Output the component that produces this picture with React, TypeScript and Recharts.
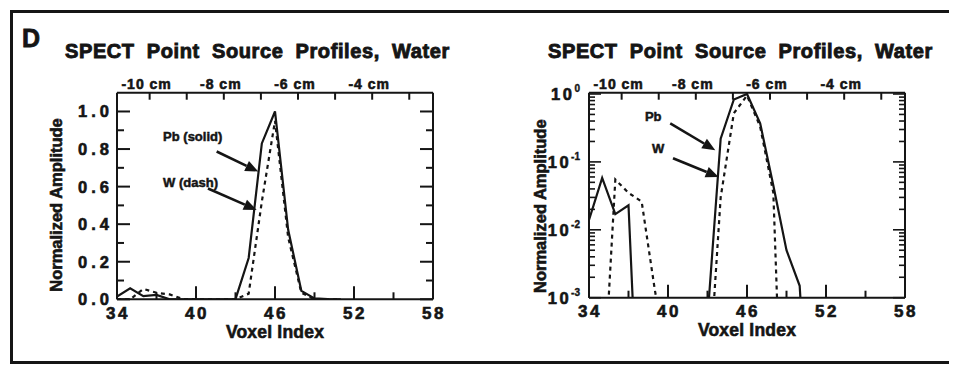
import React from "react";
import { LineChart, Line, XAxis, YAxis, ReferenceLine, ReferenceDot } from "recharts";

// voxel profiles, normalised to peak (values below the log floor are clipped)
const voxelIndex = [34, 35, 36, 37, 38, 39, 40, 41, 42, 43, 44, 45, 46, 47, 48, 49, 50, 51];
const pbSolid = [0.014, 0.058, 0.017, 0.023, 1e-6, 1e-6, 1e-6, 1e-6, 1e-6, 5e-4, 0.22, 0.83, 1.0, 0.37, 0.045, 0.005, 0.0015, 1e-6];
const wDash = [1e-6, 2e-5, 0.055, 0.035, 0.026, 1.3e-3, 1e-4, 1e-6, 1e-6, 3e-5, 0.03, 0.52, 0.95, 0.33, 0.035, 1e-7, 1e-7, 1e-7];

const voxelTicks = [34, 37, 40, 43, 46, 49, 52, 55, 58];
const cmTicks = [-10, -9, -8, -7, -6, -5, -4, -3];
const linTicks = [0, 0.1, 0.2, 0.3, 0.4, 0.5, 0.6, 0.7, 0.8, 0.9, 1.0];
const logTicks = [
  0.001, 0.002, 0.003, 0.004, 0.005, 0.006, 0.007, 0.008, 0.009,
  0.01, 0.02, 0.03, 0.04, 0.05, 0.06, 0.07, 0.08, 0.09,
  0.1, 0.2, 0.3, 0.4, 0.5, 0.6, 0.7, 0.8, 0.9, 1,
];

const TITLE = "SPECT Point Source Profiles, Water";
const Y_LABEL = "Normalized Amplitude";
const X_LABEL = "Voxel Index";

// position scale of the top axis: cm at voxel 34 and cm per voxel
const CM_AT_34 = -10.88;
const CM_PER_VOXEL = 0.355;
const cmTickVoxels = cmTicks.map((c) => 34 + (c - CM_AT_34) / CM_PER_VOXEL);
const cmLabelAt = (voxel: number) => Math.round(CM_AT_34 + (voxel - 34) * CM_PER_VOXEL);

const rows = voxelIndex.map((v, i) => ({ voxel: v, pb: pbSolid[i], w: wDash[i] }));

const INK = "#151515";
const FONT = '"Liberation Sans", Arial, Helvetica, sans-serif';

const Y_GAP = 7;
const LOG_GAP = 9;
const BOTTOM_GAP = 19.5;
const TOP_GAP = 4;

const heavy = (size: number, spacing = 0, sw = 0.6) => ({
  fontFamily: FONT,
  fontWeight: 700,
  fontSize: size,
  letterSpacing: spacing,
  fill: INK,
  stroke: INK,
  strokeWidth: sw,
});

const BottomTick = (props: any) => {
  const { x, y, payload } = props;
  const ay = y - BOTTOM_GAP;
  const v = payload.value as number;
  const major = (v - 34) % 6 === 0;
  return (
    <g>
      <line x1={x} y1={ay} x2={x} y2={ay - (major ? 13 : 7)} stroke={INK} strokeWidth={2} />
      {major && (
        <text x={x + 1} y={y} textAnchor="middle" style={heavy(17, 2.5)}>
          {v}
        </text>
      )}
    </g>
  );
};

const TopTick = (props: any) => {
  const { x, y, payload } = props;
  const ay = y + TOP_GAP;
  const c = cmLabelAt(payload.value as number);
  return (
    <g>
      <line x1={x} y1={ay} x2={x} y2={ay + 7} stroke={INK} strokeWidth={2} />
      {c % 2 === 0 && (
        <text x={x - 3} y={y} textAnchor="middle" style={heavy(14, 1)}>
          {`${c} cm`}
        </text>
      )}
    </g>
  );
};

const LinLeftTick = (props: any) => {
  const { x, y, payload } = props;
  const ax = x + Y_GAP;
  const v = payload.value as number;
  const major = Math.round(v * 10) % 2 === 0;
  return (
    <g>
      <line x1={ax} y1={y} x2={ax + (major ? 13 : 7)} y2={y} stroke={INK} strokeWidth={2} />
      {major && (
        <text x={x + 3} y={y + 6} textAnchor="end" style={heavy(16.5, 4)}>
          {v.toFixed(1)}
        </text>
      )}
    </g>
  );
};

const LinRightTick = (props: any) => {
  const { x, y, payload } = props;
  const major = Math.round((payload.value as number) * 10) % 2 === 0;
  return <line x1={x} y1={y} x2={x - (major ? 13 : 7)} y2={y} stroke={INK} strokeWidth={2} />;
};

const isDecade = (v: number) => Math.abs(Math.log10(v) - Math.round(Math.log10(v))) < 1e-6;

const LogLeftTick = (props: any) => {
  const { x, y, payload } = props;
  const ax = x + LOG_GAP;
  const v = payload.value as number;
  const major = isDecade(v);
  return (
    <g>
      <line x1={ax} y1={y} x2={ax + (major ? 12 : 6)} y2={y} stroke={INK} strokeWidth={1.6} />
      {major && (
        <text x={x} y={y + 6} textAnchor="end" style={heavy(16.5, 2.5)}>
          10
          <tspan dy={-8} style={heavy(10, 0, 0.4)}>
            {Math.round(Math.log10(v))}
          </tspan>
        </text>
      )}
    </g>
  );
};

const LogRightTick = (props: any) => {
  const { x, y, payload } = props;
  const major = isDecade(payload.value as number);
  return <line x1={x} y1={y} x2={x - (major ? 12 : 6)} y2={y} stroke={INK} strokeWidth={1.6} />;
};

const yLabel = (dist: number, dy: number) => (p: any) => {
  const vb = p.viewBox;
  const cx = vb.x + vb.width - dist;
  const cy = vb.y + vb.height / 2 + dy;
  return (
    <text
      x={cx}
      y={cy}
      textAnchor="middle"
      dominantBaseline="central"
      transform={`rotate(-90, ${cx}, ${cy})`}
      style={heavy(16.5, 0)}
    >
      {Y_LABEL}
    </text>
  );
};

const xLabel = (p: any) => {
  const vb = p.viewBox;
  return (
    <text x={vb.x + vb.width / 2} y={vb.y + 38.5} textAnchor="middle" style={heavy(17.5, 0.2)}>
      {X_LABEL}
    </text>
  );
};

const Arrow = (p: any) => {
  const { x1, y1, x2, y2 } = p;
  const a = Math.atan2(y2 - y1, x2 - x1);
  const L = 13;
  const W = 5.5;
  const bx = x2 - L * Math.cos(a);
  const by = y2 - L * Math.sin(a);
  const pts = `${x2},${y2} ${bx + W * Math.sin(a)},${by - W * Math.cos(a)} ${bx - W * Math.sin(a)},${by + W * Math.cos(a)}`;
  return (
    <g>
      <line x1={x1} y1={y1} x2={bx} y2={by} stroke={INK} strokeWidth={2.6} />
      <polygon points={pts} fill={INK} />
    </g>
  );
};

const callout = (text: string) => (p: any) => (
  <text x={p.cx} y={p.cy} dominantBaseline="central" style={heavy(13, 0, 0.5)}>
    {text}
  </text>
);

const axisLine = { stroke: INK, strokeWidth: 2 };

const bottomAxis = (
  <XAxis
    xAxisId="bottom"
    dataKey="voxel"
    type="number"
    domain={[34, 58]}
    ticks={voxelTicks}
    interval={0}
    allowDataOverflow
    height={40}
    tickSize={0}
    tickMargin={BOTTOM_GAP}
    tickLine={false}
    axisLine={axisLine}
    tick={(p: any) => <BottomTick {...p} />}
    label={{ content: xLabel }}
  />
);

const topAxis = (
  <XAxis
    xAxisId="top"
    orientation="top"
    dataKey="voxel"
    type="number"
    domain={[34, 58]}
    ticks={cmTickVoxels}
    interval={0}
    allowDataOverflow
    height={30}
    tickSize={0}
    tickMargin={TOP_GAP}
    tickLine={false}
    axisLine={axisLine}
    tick={(p: any) => <TopTick {...p} />}
  />
);

const LinearProfile = () => (
  <LineChart width={470} height={360} data={rows} margin={{ top: 54.7, right: 35, bottom: 28.7, left: 39 }}>
    {bottomAxis}
    {topAxis}
    <YAxis
      yAxisId="left"
      type="number"
      domain={[0, 1.1]}
      ticks={linTicks}
      interval={0}
      allowDataOverflow
      width={70}
      tickSize={0}
      tickMargin={Y_GAP}
      tickLine={false}
      axisLine={axisLine}
      tick={(p: any) => <LinLeftTick {...p} />}
      label={{ content: yLabel(61, 9) }}
    />
    <YAxis
      yAxisId="right"
      orientation="right"
      type="number"
      domain={[0, 1.1]}
      ticks={linTicks}
      interval={0}
      allowDataOverflow
      width={10}
      tickSize={0}
      tickMargin={0}
      tickLine={false}
      axisLine={axisLine}
      tick={(p: any) => <LinRightTick {...p} />}
    />
    <Line xAxisId="bottom" yAxisId="left" type="linear" dataKey="w" stroke={INK} strokeWidth={2.2} strokeDasharray="4 4" dot={false} isAnimationActive={false} />
    <Line xAxisId="bottom" yAxisId="left" type="linear" dataKey="pb" stroke={INK} strokeWidth={2.2} dot={false} isAnimationActive={false} />
    <ReferenceDot xAxisId="bottom" yAxisId="left" x={37.5} y={0.865} r={0} ifOverflow="visible" shape={callout("Pb (solid)")} />
    <ReferenceDot xAxisId="bottom" yAxisId="left" x={37.5} y={0.62} r={0} ifOverflow="visible" shape={callout("W (dash)")} />
    <ReferenceLine xAxisId="bottom" yAxisId="left" ifOverflow="visible" segment={[{ x: 41.57, y: 0.787 }, { x: 44.73, y: 0.68 }]} shape={Arrow} />
    <ReferenceLine xAxisId="bottom" yAxisId="left" ifOverflow="visible" segment={[{ x: 40.91, y: 0.59 }, { x: 44.61, y: 0.476 }]} shape={Arrow} />
  </LineChart>
);

const LogProfile = () => (
  <LineChart width={475} height={360} data={rows} margin={{ top: 54.7, right: 37, bottom: 30.3, left: 42 }}>
    {bottomAxis}
    {topAxis}
    <YAxis
      yAxisId="left"
      type="number"
      scale="log"
      domain={[0.001, 1.045]}
      ticks={logTicks}
      interval={0}
      allowDataOverflow
      width={70}
      tickSize={0}
      tickMargin={LOG_GAP}
      tickLine={false}
      axisLine={axisLine}
      tick={(p: any) => <LogLeftTick {...p} />}
      label={{ content: yLabel(49, 11) }}
    />
    <YAxis
      yAxisId="right"
      orientation="right"
      type="number"
      scale="log"
      domain={[0.001, 1.045]}
      ticks={logTicks}
      interval={0}
      allowDataOverflow
      width={10}
      tickSize={0}
      tickMargin={0}
      tickLine={false}
      axisLine={axisLine}
      tick={(p: any) => <LogRightTick {...p} />}
    />
    <Line xAxisId="bottom" yAxisId="left" type="linear" dataKey="w" stroke={INK} strokeWidth={2.2} strokeDasharray="4 4" dot={false} isAnimationActive={false} />
    <Line xAxisId="bottom" yAxisId="left" type="linear" dataKey="pb" stroke={INK} strokeWidth={2.2} dot={false} isAnimationActive={false} />
    <ReferenceDot xAxisId="bottom" yAxisId="left" x={38.25} y={0.47} r={0} ifOverflow="visible" shape={callout("Pb")} />
    <ReferenceDot xAxisId="bottom" yAxisId="left" x={38.78} y={0.156} r={0} ifOverflow="visible" shape={callout("W")} />
    <ReferenceLine xAxisId="bottom" yAxisId="left" ifOverflow="visible" segment={[{ x: 40.17, y: 0.369 }, { x: 43.59, y: 0.149 }]} shape={Arrow} />
    <ReferenceLine xAxisId="bottom" yAxisId="left" ifOverflow="visible" segment={[{ x: 40.38, y: 0.113 }, { x: 43.85, y: 0.06 }]} shape={Arrow} />
  </LineChart>
);

export default function App() {
  return (
    <div style={{ position: "relative", width: 949, height: 360 }}>
      <div
        style={{
          position: "absolute",
          left: 2,
          top: 2,
          width: 947,
          height: 354,
          boxSizing: "border-box",
          borderLeft: `3px solid ${INK}`,
          borderTop: `3px solid ${INK}`,
          borderBottom: `3px solid ${INK}`,
        }}
      />
      <svg width={949} height={360} style={{ position: "absolute", left: 0, top: 0 }}>
        <text x={14} y={39} style={heavy(25, 0, 0.8)}>D</text>
        <text x={57} y={50} style={{ ...heavy(20, 0.6, 0.9), wordSpacing: 6 }}>{TITLE}</text>
        <text x={540} y={50} style={{ ...heavy(20, 0.6, 0.9), wordSpacing: 6 }}>{TITLE}</text>
      </svg>
      <div style={{ position: "absolute", left: 0, top: 0 }}>
        <LinearProfile />
      </div>
      <div style={{ position: "absolute", left: 469, top: 0 }}>
        <LogProfile />
      </div>
    </div>
  );
}
